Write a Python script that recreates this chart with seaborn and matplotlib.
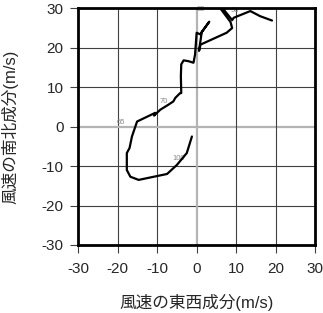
import matplotlib
matplotlib.use("Agg")
import matplotlib.pyplot as plt
import seaborn as sns
import pandas as pd

# Hodograph path (east-west u, north-south v) in m/s
u = [-1.2, -2.5, -5.0, -7.5, -14.7, -16.8, -17.7, -17.7, -17.0, -16.4, -15.1,
     -10.5, -10.8, -9.2, -7.1, -5.9, -5.4, -4.2, -3.9, -4.0, -3.9, -3.3, -2.1,
     -0.8, -0.4, 0.0, 0.9, 3.2, 1.3, 0.6, 1.0, 7.6, 9.0, 8.6, 6.0, 6.6, 9.0,
     9.4, 13.6, 16.1, 19.1]
v = [-2.5, -6.7, -9.7, -12.0, -13.5, -12.7, -11.0, -6.7, -5.4, -2.5, 1.3,
     3.5, 2.8, 4.3, 5.6, 6.4, 7.3, 8.5, 8.5, 12.8, 15.8, 16.8, 16.6,
     16.2, 18.3, 23.8, 23.4, 26.6, 24.0, 19.2, 20.8, 23.8, 25.0, 26.5, 30.0, 30.0, 27.0,
     27.6, 29.3, 28.0, 26.9]

# point labels
lab_text = ["65", "70", "80", "90", "100"]
lab_u = [-19.1, -8.4, 1.0, 9.6, -4.6]
lab_v = [1.0, 6.4, 29.7, 29.4, -8.0]

ticks = [-30, -20, -10, 0, 10, 20, 30]
xlabel = "風速の東西成分(m/s)"
ylabel = "風速の南北成分(m/s)"

sns.set_style("white")
plt.rcParams["font.family"] = ["Liberation Sans", "Noto Sans CJK JP", "DejaVu Sans"]

fig = plt.figure(figsize=(3.23, 3.13), dpi=100)
ax = fig.add_axes([0.2424, 0.2173, 0.9752 - 0.2424, 0.9735 - 0.2173])

df = pd.DataFrame({"u": u, "v": v, "order": range(len(u))})

for t in ticks:
    if t == 0:
        ax.axvline(t, color="#b4b4b4", lw=1.6, zorder=1)
        ax.axhline(t, color="#b4b4b4", lw=1.6, zorder=1)
    else:
        ax.axvline(t, color="#404040", lw=0.8, zorder=1)
        ax.axhline(t, color="#404040", lw=0.8, zorder=1)

sns.lineplot(data=df, x="u", y="v", sort=False, estimator=None, color="black",
             lw=1.6, ax=ax, zorder=3)

for t, x, y in zip(lab_text, lab_u, lab_v):
    ax.text(x, y, t, fontsize=5.5, color="#8c8c8c", ha="center", va="center", zorder=2)

ax.set_xlim(-30, 30)
ax.set_ylim(-30, 30)
ax.set_xticks(ticks)
ax.set_yticks(ticks)
ax.set_xticklabels([str(t) for t in ticks])
ax.set_yticklabels([str(t) for t in ticks])
ax.tick_params(direction="out", length=6, width=0.8, color="#404040",
               labelsize=11, bottom=True, left=True)
ax.tick_params(axis="x", pad=6)
ax.tick_params(axis="y", pad=4.5)
for s in ax.spines.values():
    s.set_linewidth(2)
    s.set_color("black")
    s.set_visible(True)

ax.set_xlabel(xlabel, fontsize=12, labelpad=13)
ax.set_ylabel(ylabel, fontsize=12, labelpad=17)

fig.savefig("out.png", dpi=100)
